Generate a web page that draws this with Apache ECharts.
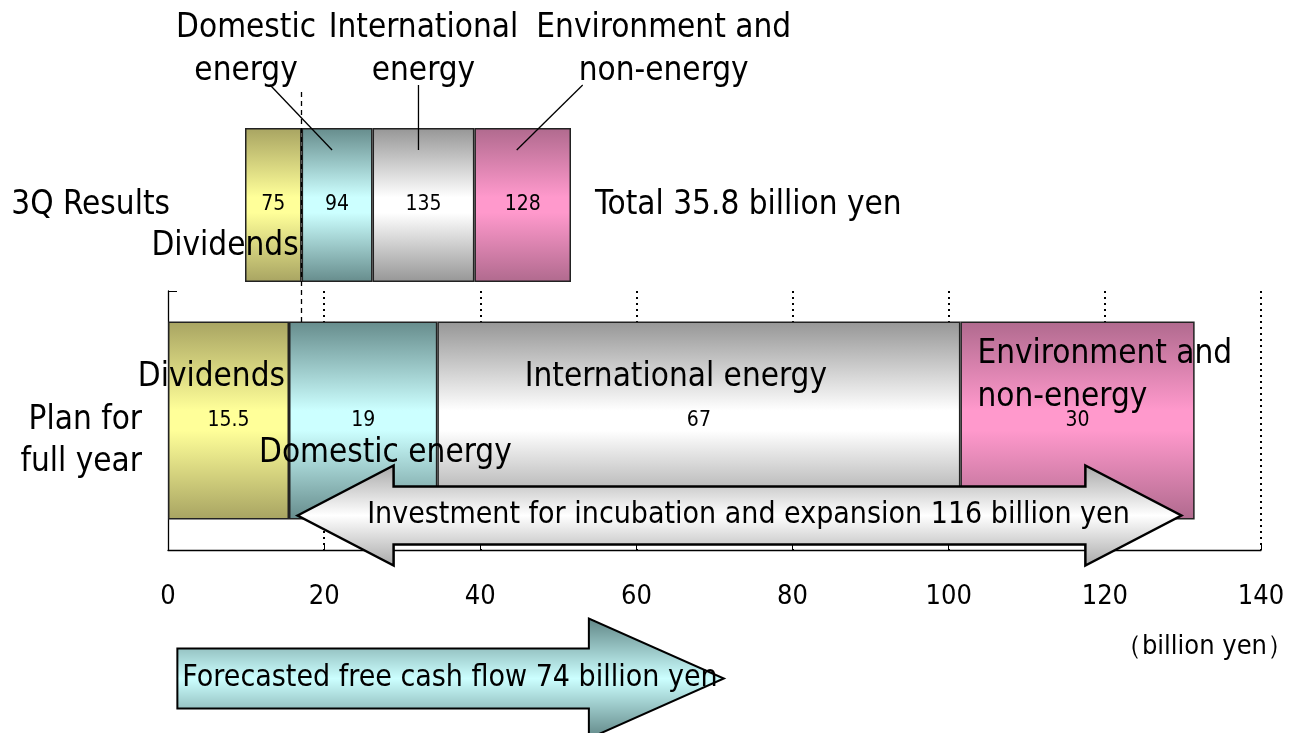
<!DOCTYPE html>
<html><head><meta charset="utf-8">
<script src="https://cdn.jsdelivr.net/npm/echarts@6/dist/echarts.min.js"></script>
<style>html,body{margin:0;padding:0;background:#fff}#c{width:1302px;height:733px}</style>
</head><body><div id="c"></div>
<script>
// ---- data ----
const segments = ['Dividends', 'Domestic energy', 'International energy', 'Environment and non-energy'];
const segmentLabelsTop = ['Dividends', 'Domestic\nenergy', 'International\nenergy', 'Environment and\nnon-energy'];
const segmentLabelsPlan = ['Dividends', 'Domestic energy', 'International energy', 'Environment and\nnon-energy'];
const resultsValues = [75, 94, 135, 128];
const planValues = [15.5, 19, 67, 30];
const xTickValues = [0, 20, 40, 60, 80, 100, 120, 140];
const rowResults = '3Q Results';
const rowPlan = 'Plan for\nfull year';
const resultsTotalText = 'Total 35.8 billion yen';
const investRange = [16.6, 129.8];
const investText = 'Investment for incubation and expansion 116 billion yen';
const fcfRange = [1.2, 71.2];
const fcfText = 'Forecasted free cash flow 74 billion yen';
const unitText = '（billion yen）';

// ---- styles ----
const FONT = '"DejaVu Sans Condensed", "DejaVu Sans", sans-serif';
const BIG = 33;
const palette = [
  ['#a8a462', '#ffff99'],
  ['#668c8c', '#ccffff'],
  ['#969696', '#ffffff'],
  ['#b06a8e', '#ff99cc']
];
function grad(d, l) {
  return new echarts.graphic.LinearGradient(0, 0, 0, 1, [
    {offset: 0, color: d}, {offset: 0.45, color: l}, {offset: 0.55, color: l}, {offset: 1, color: d}
  ]);
}

const series = [];
segments.forEach((name, i) => {
  series.push({
    name: name + ' (3Q)', type: 'bar', stack: 'r', xAxisIndex: 0, yAxisIndex: 0,
    barWidth: 154, data: [resultsValues[i]],
    itemStyle: {color: grad(palette[i][0], palette[i][1]), borderColor: '#222', borderWidth: 1.5},
    label: {show: true, position: 'inside', color: '#000', fontSize: 21, fontFamily: FONT},
    markLine: i === 0 ? {
      silent: true, symbol: 'none', label: {show: false},
      lineStyle: {color: '#000', type: [5, 4], width: 1.3},
      data: [{xAxis: resultsValues[0]}]
    } : undefined,
    z: 2
  });
});
series.push({
  type: 'scatter', xAxisIndex: 0, yAxisIndex: 0, symbolSize: 0,
  itemStyle: {opacity: 1},
  data: [[resultsValues.reduce((a, b) => a + b, 0), 0]],
  label: {show: true, position: 'right', distance: 24, formatter: resultsTotalText, color: '#000', opacity: 1, fontSize: BIG, fontFamily: FONT}
});
segments.forEach((name, i) => {
  series.push({
    name: name, type: 'bar', stack: 'p', xAxisIndex: 1, yAxisIndex: 1,
    barWidth: 198, data: [planValues[i]],
    itemStyle: {color: grad(palette[i][0], palette[i][1]), borderColor: '#222', borderWidth: 1.5},
    label: {show: true, position: 'inside', color: '#000', fontSize: 21, fontFamily: FONT},
    z: 2
  });
});

const option = {
  animation: false,
  backgroundColor: '#fff',
  textStyle: {fontFamily: FONT},
  grid: [
    {left: 245, width: 326, top: 88, height: 234, containLabel: false, outerBoundsMode: 'none'},
    {left: 168, right: 41, top: 291, bottom: 183, containLabel: false, outerBoundsMode: 'none'}
  ],
  xAxis: [
    {type: 'value', gridIndex: 0, min: 0, max: resultsValues.reduce((a, b) => a + b, 0), show: false},
    {type: 'value', gridIndex: 1, min: xTickValues[0], max: xTickValues[xTickValues.length - 1], interval: 20,
     axisLine: {show: true, lineStyle: {color: '#000', width: 1.3}},
     axisTick: {show: true, inside: true, length: 5, lineStyle: {color: '#000'}},
     axisLabel: {show: true, margin: 33, color: '#000', fontSize: 27, fontFamily: FONT},
     splitLine: {show: true, showMinLine: false, lineStyle: {color: '#000', type: [2, 4], width: 2}}}
  ],
  yAxis: [
    {type: 'category', gridIndex: 0, data: [rowResults],
     axisLine: {show: false}, axisTick: {show: false}, splitLine: {show: false},
     axisLabel: {margin: 75, color: '#000', fontSize: BIG, fontFamily: FONT}},
    {type: 'category', gridIndex: 1, data: [rowPlan],
     axisLine: {show: true, lineStyle: {color: '#000', width: 1.3}},
     axisTick: {show: true, inside: true, length: 9, lineStyle: {color: '#000'}},
     splitLine: {show: false},
     axisLabel: {margin: 26, color: '#000', fontSize: BIG, lineHeight: 42, fontFamily: FONT,
       formatter: v => '\n' + v}}
  ],
  series: series
};

const chart = echarts.init(document.getElementById('c'));
chart.setOption(option);

// ---- annotations positioned through the axes ----
function cum(arr) { const o = [0]; arr.forEach(v => o.push(o[o.length - 1] + v)); return o; }
const cR = cum(resultsValues), cP = cum(planValues);
const pR = x => chart.convertToPixel({gridIndex: 0}, [x, 0]);
const pP = x => chart.convertToPixel({gridIndex: 1}, [x, 0]);
const g = [];
function txt(text, x, y, size, align) {
  g.push({type: 'text', z: 20, silent: true,
    style: {text: text, x: x, y: y, fill: '#000', fontSize: size, fontFamily: FONT,
      textAlign: align || 'center', textVerticalAlign: 'middle', lineHeight: 43}});
}
function line(x1, y1, x2, y2) {
  g.push({type: 'line', z: 20, silent: true, shape: {x1, y1, x2, y2}, style: {stroke: '#000', lineWidth: 1.3}});
}

// top bar annotations
const rowR = pR(0)[1];
const barTopR = rowR - 77;
const midR = i => pR((cR[i] + cR[i + 1]) / 2)[0];
txt(segmentLabelsTop[0], pR(cR[1])[0] - 3, rowR + 41, BIG, 'right');
txt(segmentLabelsTop[1], midR(1) - 91, 50, BIG, 'center');
txt(segmentLabelsTop[2], midR(2), 50, BIG, 'center');
txt(segmentLabelsTop[3], midR(3) + 141, 50, BIG, 'center');
line(midR(1) - 67, 85, midR(1) - 5, barTopR + 22);
line(midR(2) - 5, 85, midR(2) - 5, barTopR + 22);
line(midR(3) + 60, 85, midR(3) - 6, barTopR + 22);

// plan bar annotations
const rowP = pP(0)[1];
txt(segmentLabelsPlan[0], pP(cP[1])[0] - 4, rowP - 43, BIG, 'right');
txt(segmentLabelsPlan[1], pP(cP[1])[0] - 30, rowP + 33, BIG, 'left');
txt(segmentLabelsPlan[2], (pP(cP[2])[0] + pP(cP[3])[0]) / 2 - 23, rowP - 43, BIG, 'center');
txt(segmentLabelsPlan[3], pP(cP[3])[0] + 17, rowP - 45, BIG, 'left');

// arrows
function dblArrow(L, R, cy, sh, hh, hl) {
  return [[L, cy], [L + hl, cy - hh], [L + hl, cy - sh], [R - hl, cy - sh], [R - hl, cy - hh], [R, cy],
          [R - hl, cy + hh], [R - hl, cy + sh], [L + hl, cy + sh], [L + hl, cy + hh]];
}
function sglArrow(L, R, cy, sh, hh, hl) {
  return [[L, cy - sh], [R - hl, cy - sh], [R - hl, cy - hh], [R, cy], [R - hl, cy + hh], [R - hl, cy + sh], [L, cy + sh]];
}
const iL = pP(investRange[0])[0], iR = pP(investRange[1])[0], iY = rowP + 95;
g.push({type: 'polygon', z: 15, silent: true, shape: {points: dblArrow(iL, iR, iY, 29, 50, 96)},
  style: {fill: new echarts.graphic.LinearGradient(0, 0, 0, 1, [
    {offset: 0, color: '#a8a8a8'}, {offset: 0.5, color: '#ffffff'}, {offset: 1, color: '#a8a8a8'}]),
    stroke: '#000', lineWidth: 2.5, lineJoin: 'miter'}});
txt(investText, (iL + iR) / 2 + 9, iY, 30, 'center');

const fL = pP(fcfRange[0])[0], fR = pP(fcfRange[1])[0], fY = rowP + 258;
g.push({type: 'polygon', z: 15, silent: true, shape: {points: sglArrow(fL, fR, fY, 30, 60, 135)},
  style: {fill: new echarts.graphic.LinearGradient(0, 0, 0, 1, [
    {offset: 0, color: '#5f8585'}, {offset: 0.5, color: '#ccffff'}, {offset: 1, color: '#5f8585'}]),
    stroke: '#000', lineWidth: 2, lineJoin: 'miter'}});
txt(fcfText, fL + 5, fY, 30, 'left');

// unit label
txt(unitText, 1294, 647, 27, 'right');

chart.setOption({graphic: g});
</script>
</body></html>
